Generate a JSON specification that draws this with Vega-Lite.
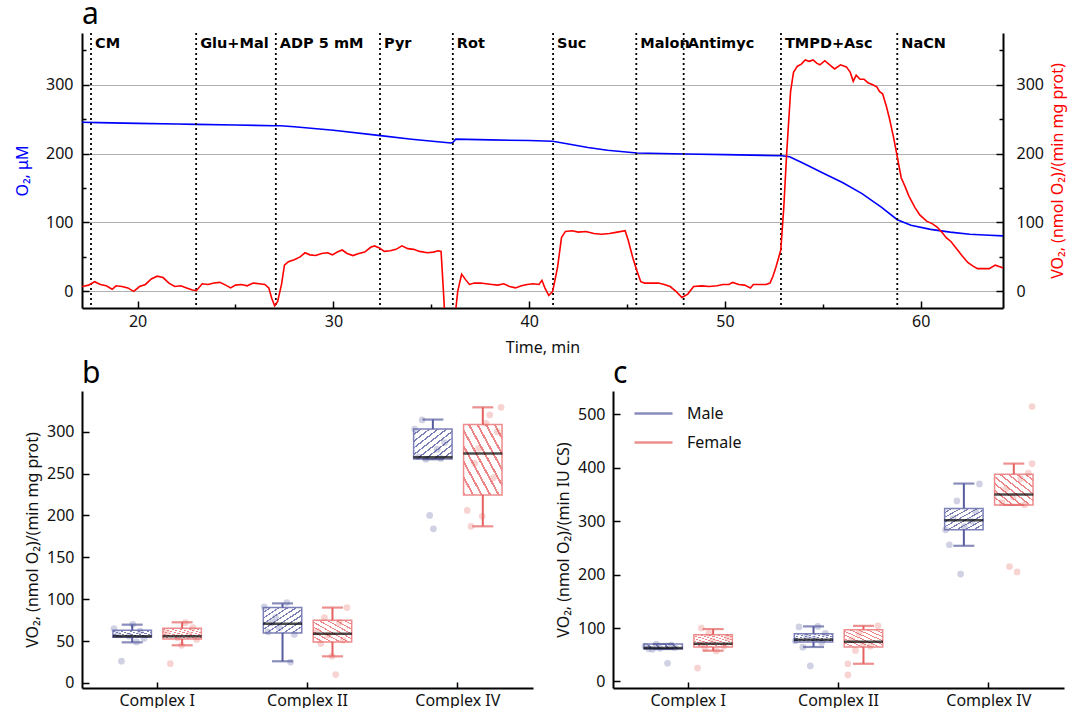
{
  "$schema": "https://vega.github.io/schema/vega-lite/v6.json",
  "background": "white",
  "padding": {"left": 14, "top": 0, "right": 4, "bottom": 0},
  "spacing": 4,
  "config": {
    "font": "Noto Sans",
    "view": {"stroke": null},
    "axis": {
      "labelFont": "Noto Sans", "titleFont": "Noto Sans",
      "labelFontSize": 16, "titleFontSize": 16, "titleFontWeight": "normal",
      "labelColor": "#111111", "titleColor": "#111111",
      "domainColor": "#000000", "domainWidth": 2,
      "tickColor": "#000000", "tickWidth": 1.5, "grid": false
    },
    "title": {"font": "Noto Sans", "fontSize": 30, "fontWeight": "normal", "anchor": "start", "frame": "group", "color": "#000000", "offset": 2}
  },
  "datasets": {
    "events": [
      {"t": 17.62, "label": "CM"}, {"t": 22.99, "label": "Glu+Mal"}, {"t": 27.06, "label": "ADP 5 mM"},
      {"t": 32.38, "label": "Pyr"}, {"t": 36.1, "label": "Rot"}, {"t": 41.22, "label": "Suc"},
      {"t": 45.47, "label": "Malon"}, {"t": 47.89, "label": "Antimyc"}, {"t": 52.86, "label": "TMPD+Asc"},
      {"t": 58.8, "label": "NaCN"}
    ],
    "o2": [
      {"t": 17.16, "o2": 245.5}, {"t": 18, "o2": 245}, {"t": 20, "o2": 244}, {"t": 22, "o2": 243}, {"t": 23, "o2": 242.5},
      {"t": 25, "o2": 241.5}, {"t": 27, "o2": 240.5}, {"t": 27.3, "o2": 240.5}, {"t": 28, "o2": 239}, {"t": 30, "o2": 234},
      {"t": 32.3, "o2": 226.5}, {"t": 34, "o2": 221}, {"t": 36.0, "o2": 215.5}, {"t": 36.1, "o2": 216}, {"t": 36.25, "o2": 221},
      {"t": 38, "o2": 220}, {"t": 40, "o2": 219}, {"t": 41.2, "o2": 218}, {"t": 42, "o2": 214}, {"t": 43, "o2": 209},
      {"t": 44, "o2": 205}, {"t": 45.5, "o2": 201}, {"t": 48, "o2": 199.5}, {"t": 50, "o2": 198.5}, {"t": 52.9, "o2": 197},
      {"t": 53.3, "o2": 195.5}, {"t": 54, "o2": 186}, {"t": 55, "o2": 172}, {"t": 56, "o2": 158}, {"t": 57, "o2": 142},
      {"t": 58, "o2": 122}, {"t": 58.8, "o2": 104}, {"t": 59.5, "o2": 96}, {"t": 60.5, "o2": 90}, {"t": 61.5, "o2": 86},
      {"t": 62.5, "o2": 83}, {"t": 63.5, "o2": 81.5}, {"t": 64.2, "o2": 80.5}
    ],
    "vo2": [
      {"t": 17.16, "vo2": 7}, {"t": 17.5, "vo2": 9}, {"t": 17.8, "vo2": 14}, {"t": 18.1, "vo2": 10}, {"t": 18.4, "vo2": 8},
      {"t": 18.7, "vo2": 3}, {"t": 18.9, "vo2": 8}, {"t": 19.2, "vo2": 7}, {"t": 19.5, "vo2": 5}, {"t": 19.8, "vo2": 0},
      {"t": 20.1, "vo2": 7}, {"t": 20.4, "vo2": 10}, {"t": 20.7, "vo2": 18}, {"t": 21.0, "vo2": 22}, {"t": 21.3, "vo2": 20},
      {"t": 21.6, "vo2": 12}, {"t": 21.9, "vo2": 7}, {"t": 22.2, "vo2": 8}, {"t": 22.5, "vo2": 5}, {"t": 22.8, "vo2": 2},
      {"t": 23.0, "vo2": 1}, {"t": 23.3, "vo2": 11}, {"t": 23.6, "vo2": 10}, {"t": 23.9, "vo2": 12}, {"t": 24.2, "vo2": 13},
      {"t": 24.5, "vo2": 9}, {"t": 24.75, "vo2": 5}, {"t": 25.0, "vo2": 9}, {"t": 25.3, "vo2": 10}, {"t": 25.6, "vo2": 8},
      {"t": 25.9, "vo2": 12}, {"t": 26.2, "vo2": 11}, {"t": 26.5, "vo2": 10}, {"t": 26.7, "vo2": 5}, {"t": 26.85, "vo2": -10},
      {"t": 27.0, "vo2": -21}, {"t": 27.15, "vo2": -15}, {"t": 27.35, "vo2": 10}, {"t": 27.5, "vo2": 38}, {"t": 27.7, "vo2": 43},
      {"t": 28.0, "vo2": 46}, {"t": 28.3, "vo2": 50}, {"t": 28.55, "vo2": 56}, {"t": 28.8, "vo2": 53}, {"t": 29.1, "vo2": 52},
      {"t": 29.4, "vo2": 55}, {"t": 29.7, "vo2": 56}, {"t": 29.95, "vo2": 53}, {"t": 30.2, "vo2": 57}, {"t": 30.45, "vo2": 60},
      {"t": 30.7, "vo2": 55}, {"t": 31.0, "vo2": 52}, {"t": 31.3, "vo2": 55}, {"t": 31.6, "vo2": 57}, {"t": 31.9, "vo2": 64},
      {"t": 32.1, "vo2": 66}, {"t": 32.35, "vo2": 63}, {"t": 32.6, "vo2": 58}, {"t": 32.9, "vo2": 59}, {"t": 33.2, "vo2": 61},
      {"t": 33.5, "vo2": 66}, {"t": 33.8, "vo2": 62}, {"t": 34.1, "vo2": 61}, {"t": 34.4, "vo2": 58}, {"t": 34.8, "vo2": 56},
      {"t": 35.1, "vo2": 57}, {"t": 35.35, "vo2": 59}, {"t": 35.5, "vo2": 58}, {"t": 35.6, "vo2": 10}, {"t": 35.7, "vo2": -40},
      {"t": 36.2, "vo2": -40}, {"t": 36.35, "vo2": 0}, {"t": 36.55, "vo2": 25}, {"t": 36.75, "vo2": 17}, {"t": 36.95, "vo2": 10},
      {"t": 37.2, "vo2": 12}, {"t": 37.5, "vo2": 12}, {"t": 37.8, "vo2": 11}, {"t": 38.1, "vo2": 10}, {"t": 38.4, "vo2": 9},
      {"t": 38.7, "vo2": 11}, {"t": 39.0, "vo2": 7}, {"t": 39.3, "vo2": 5}, {"t": 39.6, "vo2": 8}, {"t": 39.9, "vo2": 10},
      {"t": 40.2, "vo2": 11}, {"t": 40.5, "vo2": 10}, {"t": 40.65, "vo2": 16}, {"t": 40.8, "vo2": 5}, {"t": 41.0, "vo2": -6},
      {"t": 41.2, "vo2": 0}, {"t": 41.45, "vo2": 35}, {"t": 41.65, "vo2": 78}, {"t": 41.85, "vo2": 87}, {"t": 42.2, "vo2": 88},
      {"t": 42.5, "vo2": 86}, {"t": 42.9, "vo2": 87}, {"t": 43.3, "vo2": 84}, {"t": 43.7, "vo2": 83}, {"t": 44.1, "vo2": 84},
      {"t": 44.5, "vo2": 86}, {"t": 44.9, "vo2": 88}, {"t": 45.05, "vo2": 75}, {"t": 45.3, "vo2": 48}, {"t": 45.5, "vo2": 30},
      {"t": 45.7, "vo2": 14}, {"t": 45.9, "vo2": 12}, {"t": 46.2, "vo2": 12}, {"t": 46.6, "vo2": 12}, {"t": 46.9, "vo2": 10},
      {"t": 47.2, "vo2": 7}, {"t": 47.5, "vo2": 0}, {"t": 47.8, "vo2": -9}, {"t": 48.1, "vo2": -4}, {"t": 48.4, "vo2": 7},
      {"t": 48.8, "vo2": 8}, {"t": 49.2, "vo2": 7}, {"t": 49.6, "vo2": 8}, {"t": 49.9, "vo2": 10}, {"t": 50.2, "vo2": 10},
      {"t": 50.4, "vo2": 13}, {"t": 50.7, "vo2": 10}, {"t": 51.0, "vo2": 9}, {"t": 51.3, "vo2": 5}, {"t": 51.45, "vo2": 10},
      {"t": 51.8, "vo2": 10}, {"t": 52.1, "vo2": 10}, {"t": 52.3, "vo2": 12}, {"t": 52.45, "vo2": 22}, {"t": 52.6, "vo2": 35},
      {"t": 52.75, "vo2": 50}, {"t": 52.85, "vo2": 60}, {"t": 53.0, "vo2": 120}, {"t": 53.15, "vo2": 200}, {"t": 53.35, "vo2": 290},
      {"t": 53.5, "vo2": 318}, {"t": 53.7, "vo2": 327}, {"t": 53.9, "vo2": 330}, {"t": 54.1, "vo2": 336}, {"t": 54.3, "vo2": 334},
      {"t": 54.5, "vo2": 336}, {"t": 54.7, "vo2": 331}, {"t": 54.85, "vo2": 329}, {"t": 55.1, "vo2": 335}, {"t": 55.35, "vo2": 329},
      {"t": 55.6, "vo2": 323}, {"t": 55.9, "vo2": 329}, {"t": 56.2, "vo2": 326}, {"t": 56.4, "vo2": 318}, {"t": 56.55, "vo2": 305},
      {"t": 56.7, "vo2": 314}, {"t": 56.9, "vo2": 308}, {"t": 57.1, "vo2": 308}, {"t": 57.3, "vo2": 303}, {"t": 57.55, "vo2": 300},
      {"t": 57.75, "vo2": 297}, {"t": 57.9, "vo2": 290}, {"t": 58.05, "vo2": 287}, {"t": 58.25, "vo2": 268}, {"t": 58.4, "vo2": 251},
      {"t": 58.6, "vo2": 225}, {"t": 58.75, "vo2": 203}, {"t": 59.0, "vo2": 165}, {"t": 59.2, "vo2": 152}, {"t": 59.4, "vo2": 138},
      {"t": 59.7, "vo2": 122}, {"t": 59.95, "vo2": 111}, {"t": 60.3, "vo2": 102}, {"t": 60.6, "vo2": 98}, {"t": 60.85, "vo2": 93},
      {"t": 61.1, "vo2": 85}, {"t": 61.3, "vo2": 78}, {"t": 61.55, "vo2": 72}, {"t": 61.8, "vo2": 63}, {"t": 62.1, "vo2": 52},
      {"t": 62.4, "vo2": 42}, {"t": 62.65, "vo2": 37}, {"t": 62.9, "vo2": 33}, {"t": 63.2, "vo2": 33}, {"t": 63.5, "vo2": 33},
      {"t": 63.8, "vo2": 38}, {"t": 64.0, "vo2": 36}, {"t": 64.2, "vo2": 34}
    ],
    "boxB": [
      {"complex": "Complex I", "sex": "Male", "lower": 48.5, "q1": 54.5, "median": 55.7, "q3": 62.9, "upper": 69.6},
      {"complex": "Complex I", "sex": "Female", "lower": 45, "q1": 52.5, "median": 55.7, "q3": 65.3, "upper": 72.4},
      {"complex": "Complex II", "sex": "Male", "lower": 25.9, "q1": 59.7, "median": 70.8, "q3": 90, "upper": 95},
      {"complex": "Complex II", "sex": "Female", "lower": 31.8, "q1": 49, "median": 58.9, "q3": 74.8, "upper": 90},
      {"complex": "Complex IV", "sex": "Male", "lower": 267, "q1": 267.4, "median": 269.4, "q3": 303.2, "upper": 314.4},
      {"complex": "Complex IV", "sex": "Female", "lower": 187, "q1": 224.4, "median": 273.8, "q3": 308.4, "upper": 329}
    ],
    "boxC": [
      {"complex": "Complex I", "sex": "Male", "lower": 60.6, "q1": 60.6, "median": 62.5, "q3": 70, "upper": 70},
      {"complex": "Complex I", "sex": "Female", "lower": 57.5, "q1": 64.4, "median": 70.6, "q3": 87.5, "upper": 98},
      {"complex": "Complex II", "sex": "Male", "lower": 64.4, "q1": 73.8, "median": 78, "q3": 89.4, "upper": 103},
      {"complex": "Complex II", "sex": "Female", "lower": 33, "q1": 64.4, "median": 74.4, "q3": 96.9, "upper": 104},
      {"complex": "Complex IV", "sex": "Male", "lower": 254, "q1": 284, "median": 302, "q3": 324, "upper": 370.6},
      {"complex": "Complex IV", "sex": "Female", "lower": 330.6, "q1": 330.6, "median": 350, "q3": 388, "upper": 408}
    ],
    "ptsB": [
      {"complex": "Complex I", "sex": "Male", "slot": "M3", "v": 26}, {"complex": "Complex I", "sex": "Male", "slot": "M7", "v": 49},
      {"complex": "Complex I", "sex": "Male", "slot": "M9", "v": 53}, {"complex": "Complex I", "sex": "Male", "slot": "M5", "v": 56},
      {"complex": "Complex I", "sex": "Male", "slot": "M2", "v": 58}, {"complex": "Complex I", "sex": "Male", "slot": "M8", "v": 62},
      {"complex": "Complex I", "sex": "Male", "slot": "M1", "v": 65}, {"complex": "Complex I", "sex": "Male", "slot": "M6", "v": 70},
      {"complex": "Complex I", "sex": "Female", "slot": "F2", "v": 23}, {"complex": "Complex I", "sex": "Female", "slot": "F5", "v": 45},
      {"complex": "Complex I", "sex": "Female", "slot": "F9", "v": 52}, {"complex": "Complex I", "sex": "Female", "slot": "F4", "v": 54},
      {"complex": "Complex I", "sex": "Female", "slot": "F7", "v": 57}, {"complex": "Complex I", "sex": "Female", "slot": "F1", "v": 60},
      {"complex": "Complex I", "sex": "Female", "slot": "F8", "v": 66}, {"complex": "Complex I", "sex": "Female", "slot": "F6", "v": 72},
      {"complex": "Complex II", "sex": "Male", "slot": "M8", "v": 25}, {"complex": "Complex II", "sex": "Male", "slot": "M9", "v": 58},
      {"complex": "Complex II", "sex": "Male", "slot": "M2", "v": 61}, {"complex": "Complex II", "sex": "Male", "slot": "M5", "v": 66},
      {"complex": "Complex II", "sex": "Male", "slot": "M3", "v": 72}, {"complex": "Complex II", "sex": "Male", "slot": "M4", "v": 78},
      {"complex": "Complex II", "sex": "Male", "slot": "M1", "v": 91}, {"complex": "Complex II", "sex": "Male", "slot": "M7", "v": 96},
      {"complex": "Complex II", "sex": "Female", "slot": "F6", "v": 10}, {"complex": "Complex II", "sex": "Female", "slot": "F5", "v": 32},
      {"complex": "Complex II", "sex": "Female", "slot": "F2", "v": 47}, {"complex": "Complex II", "sex": "Female", "slot": "F8", "v": 51},
      {"complex": "Complex II", "sex": "Female", "slot": "F4", "v": 57}, {"complex": "Complex II", "sex": "Female", "slot": "F1", "v": 62},
      {"complex": "Complex II", "sex": "Female", "slot": "F7", "v": 72}, {"complex": "Complex II", "sex": "Female", "slot": "F3", "v": 78},
      {"complex": "Complex II", "sex": "Female", "slot": "F9", "v": 90},
      {"complex": "Complex IV", "sex": "Male", "slot": "M6", "v": 184}, {"complex": "Complex IV", "sex": "Male", "slot": "M5", "v": 200},
      {"complex": "Complex IV", "sex": "Male", "slot": "M4", "v": 267}, {"complex": "Complex IV", "sex": "Male", "slot": "M8", "v": 268},
      {"complex": "Complex IV", "sex": "Male", "slot": "M2", "v": 270}, {"complex": "Complex IV", "sex": "Male", "slot": "M7", "v": 279},
      {"complex": "Complex IV", "sex": "Male", "slot": "M9", "v": 287}, {"complex": "Complex IV", "sex": "Male", "slot": "M1", "v": 303},
      {"complex": "Complex IV", "sex": "Male", "slot": "M3", "v": 314},
      {"complex": "Complex IV", "sex": "Female", "slot": "F2", "v": 187}, {"complex": "Complex IV", "sex": "Female", "slot": "F5", "v": 199},
      {"complex": "Complex IV", "sex": "Female", "slot": "F1", "v": 206}, {"complex": "Complex IV", "sex": "Female", "slot": "F8", "v": 245},
      {"complex": "Complex IV", "sex": "Female", "slot": "F3", "v": 262}, {"complex": "Complex IV", "sex": "Female", "slot": "F4", "v": 280},
      {"complex": "Complex IV", "sex": "Female", "slot": "F9", "v": 300}, {"complex": "Complex IV", "sex": "Female", "slot": "F6", "v": 310},
      {"complex": "Complex IV", "sex": "Female", "slot": "F7", "v": 320}, {"complex": "Complex IV", "sex": "Female", "slot": "F10", "v": 329}
    ],
    "ptsC": [
      {"complex": "Complex I", "sex": "Male", "slot": "M7", "v": 34}, {"complex": "Complex I", "sex": "Male", "slot": "M3", "v": 60},
      {"complex": "Complex I", "sex": "Male", "slot": "M2", "v": 61}, {"complex": "Complex I", "sex": "Male", "slot": "M5", "v": 62},
      {"complex": "Complex I", "sex": "Male", "slot": "M9", "v": 63}, {"complex": "Complex I", "sex": "Male", "slot": "M1", "v": 66},
      {"complex": "Complex I", "sex": "Male", "slot": "M8", "v": 68}, {"complex": "Complex I", "sex": "Male", "slot": "M4", "v": 70},
      {"complex": "Complex I", "sex": "Female", "slot": "F1", "v": 25}, {"complex": "Complex I", "sex": "Female", "slot": "F6", "v": 57},
      {"complex": "Complex I", "sex": "Female", "slot": "F3", "v": 62}, {"complex": "Complex I", "sex": "Female", "slot": "F8", "v": 66},
      {"complex": "Complex I", "sex": "Female", "slot": "F2", "v": 70}, {"complex": "Complex I", "sex": "Female", "slot": "F5", "v": 75},
      {"complex": "Complex I", "sex": "Female", "slot": "F9", "v": 82}, {"complex": "Complex I", "sex": "Female", "slot": "F4", "v": 90},
      {"complex": "Complex I", "sex": "Female", "slot": "F2", "v": 100},
      {"complex": "Complex II", "sex": "Male", "slot": "M5", "v": 29}, {"complex": "Complex II", "sex": "Male", "slot": "M3", "v": 64},
      {"complex": "Complex II", "sex": "Male", "slot": "M8", "v": 73}, {"complex": "Complex II", "sex": "Male", "slot": "M1", "v": 76},
      {"complex": "Complex II", "sex": "Male", "slot": "M6", "v": 79}, {"complex": "Complex II", "sex": "Male", "slot": "M4", "v": 84},
      {"complex": "Complex II", "sex": "Male", "slot": "M9", "v": 90}, {"complex": "Complex II", "sex": "Male", "slot": "M2", "v": 102},
      {"complex": "Complex II", "sex": "Male", "slot": "M7", "v": 103},
      {"complex": "Complex II", "sex": "Female", "slot": "F1", "v": 12}, {"complex": "Complex II", "sex": "Female", "slot": "F1", "v": 33},
      {"complex": "Complex II", "sex": "Female", "slot": "F3", "v": 58}, {"complex": "Complex II", "sex": "Female", "slot": "F7", "v": 66},
      {"complex": "Complex II", "sex": "Female", "slot": "F5", "v": 70}, {"complex": "Complex II", "sex": "Female", "slot": "F2", "v": 78},
      {"complex": "Complex II", "sex": "Female", "slot": "F4", "v": 90}, {"complex": "Complex II", "sex": "Female", "slot": "F9", "v": 104},
      {"complex": "Complex IV", "sex": "Male", "slot": "M5", "v": 201}, {"complex": "Complex IV", "sex": "Male", "slot": "M2", "v": 256},
      {"complex": "Complex IV", "sex": "Male", "slot": "M1", "v": 284}, {"complex": "Complex IV", "sex": "Male", "slot": "M6", "v": 290},
      {"complex": "Complex IV", "sex": "Male", "slot": "M8", "v": 300}, {"complex": "Complex IV", "sex": "Male", "slot": "M3", "v": 305},
      {"complex": "Complex IV", "sex": "Male", "slot": "M9", "v": 318}, {"complex": "Complex IV", "sex": "Male", "slot": "M4", "v": 338},
      {"complex": "Complex IV", "sex": "Male", "slot": "M10", "v": 370},
      {"complex": "Complex IV", "sex": "Female", "slot": "F6", "v": 205}, {"complex": "Complex IV", "sex": "Female", "slot": "F4", "v": 215},
      {"complex": "Complex IV", "sex": "Female", "slot": "F8", "v": 331}, {"complex": "Complex IV", "sex": "Female", "slot": "F2", "v": 335},
      {"complex": "Complex IV", "sex": "Female", "slot": "F5", "v": 345}, {"complex": "Complex IV", "sex": "Female", "slot": "F3", "v": 360},
      {"complex": "Complex IV", "sex": "Female", "slot": "F7", "v": 380}, {"complex": "Complex IV", "sex": "Female", "slot": "F9", "v": 390},
      {"complex": "Complex IV", "sex": "Female", "slot": "F10", "v": 408}, {"complex": "Complex IV", "sex": "Female", "slot": "F10", "v": 515}
    ]
  },
  "resolve": {"scale": {"x": "independent", "y": "independent", "color": "independent"}},
  "vconcat": [
    {
      "width": 921, "height": 275,
      "title": {"text": "a"},
      "layer": [
        {
          "data": {"name": "o2"},
          "mark": {"type": "line", "color": "#0000ff", "strokeWidth": 1.6},
          "encoding": {
            "x": {"field": "t", "type": "quantitative", "title": "Time, min", "scale": {"domain": [17.16, 64.2], "nice": false, "zero": false},
              "axis": {"values": [20, 25, 30, 35, 40, 45, 50, 55, 60],
                "labelExpr": "datum.value % 10 === 0 ? datum.label : ''",
                "tickSize": {"condition": {"test": "datum.value % 10 === 0", "value": -7}, "value": -4},
                "labelPadding": 12, "titlePadding": 10}},
            "y": {"field": "o2", "type": "quantitative", "scale": {"domain": [-24.2, 375.2], "nice": false, "zero": false},
              "axis": {"orient": "left", "title": "O₂, μM", "titleColor": "#0000ff",
                "values": [0, 50, 100, 150, 200, 250, 300, 350],
                "labelExpr": "datum.value % 100 === 0 ? datum.label : ''",
                "tickSize": {"condition": {"test": "datum.value % 100 === 0", "value": -7}, "value": -4},
                "labelPadding": 16, "titlePadding": 15,
                "grid": true, "gridColor": "#b0b0b0", "gridWidth": 1,
                "gridOpacity": {"condition": {"test": "datum.value % 100 === 0", "value": 1}, "value": 0}}}
          }
        },
        {
          "data": {"name": "events"},
          "mark": {"type": "rule", "strokeDash": [2, 3], "strokeWidth": 1.8, "color": "#000000"},
          "encoding": {
            "x": {"field": "t", "type": "quantitative", "title": "Time, min"}
          }
        },
        {
          "data": {"name": "events"},
          "mark": {"type": "text", "align": "left", "baseline": "alphabetic", "dx": 4, "fontSize": 14.5, "fontWeight": "bold", "color": "#000000", "font": "DejaVu Sans"},
          "encoding": {
            "x": {"field": "t", "type": "quantitative", "title": "Time, min"},
            "y": {"datum": 354, "type": "quantitative", "scale": {"domain": [-24.2, 375.2], "nice": false, "zero": false}, "axis": null},
            "text": {"field": "label"}
          }
        },
        {
          "data": {"name": "vo2"},
          "mark": {"type": "line", "color": "#ff0000", "strokeWidth": 1.6, "clip": true},
          "encoding": {
            "x": {"field": "t", "type": "quantitative", "title": "Time, min"},
            "y": {"field": "vo2", "type": "quantitative", "scale": {"domain": [-24.2, 375.2], "nice": false, "zero": false},
              "axis": {"orient": "right", "title": "VO₂, (nmol O₂)/(min mg prot)", "titleColor": "#ff0000",
                "titleAngle": 270, "titleBaseline": "top",
                "values": [0, 50, 100, 150, 200, 250, 300, 350],
                "labelExpr": "datum.value % 100 === 0 ? datum.label : ''",
                "tickSize": {"condition": {"test": "datum.value % 100 === 0", "value": -7}, "value": -4},
                "labelPadding": 20, "titlePadding": 6}}
          }
        }
      ],
      "resolve": {"scale": {"y": "independent"}}
    },
    {
      "hconcat": [
        {
          "width": 451, "height": 297,
          "title": {"text": "b"},
          "data": {"name": "boxB"},
          "layer": [
            {
              "transform": [{"filter": "datum.sex === 'Male'"}],
              "mark": {"type": "bar", "stroke": "#7d81b8", "strokeWidth": 1.5,
                "fill": {"gradient": "linear", "x1": 0, "y1": 0, "x2": 1, "y2": 1, "stops": [
                  {"offset": 0, "color": "#ffffff"}, {"offset": 0.0831, "color": "#ffffff"}, {"offset": 0.0831, "color": "#7a7eb6"}, {"offset": 0.1111, "color": "#7a7eb6"},
                  {"offset": 0.1111, "color": "#ffffff"}, {"offset": 0.1942, "color": "#ffffff"}, {"offset": 0.1942, "color": "#7a7eb6"}, {"offset": 0.2222, "color": "#7a7eb6"},
                  {"offset": 0.2222, "color": "#ffffff"}, {"offset": 0.3053, "color": "#ffffff"}, {"offset": 0.3053, "color": "#7a7eb6"}, {"offset": 0.3333, "color": "#7a7eb6"},
                  {"offset": 0.3333, "color": "#ffffff"}, {"offset": 0.4164, "color": "#ffffff"}, {"offset": 0.4164, "color": "#7a7eb6"}, {"offset": 0.4444, "color": "#7a7eb6"},
                  {"offset": 0.4444, "color": "#ffffff"}, {"offset": 0.5275, "color": "#ffffff"}, {"offset": 0.5275, "color": "#7a7eb6"}, {"offset": 0.5556, "color": "#7a7eb6"},
                  {"offset": 0.5556, "color": "#ffffff"}, {"offset": 0.6386, "color": "#ffffff"}, {"offset": 0.6386, "color": "#7a7eb6"}, {"offset": 0.6667, "color": "#7a7eb6"},
                  {"offset": 0.6667, "color": "#ffffff"}, {"offset": 0.7497, "color": "#ffffff"}, {"offset": 0.7497, "color": "#7a7eb6"}, {"offset": 0.7778, "color": "#7a7eb6"},
                  {"offset": 0.7778, "color": "#ffffff"}, {"offset": 0.8608, "color": "#ffffff"}, {"offset": 0.8608, "color": "#7a7eb6"}, {"offset": 0.8889, "color": "#7a7eb6"},
                  {"offset": 0.8889, "color": "#ffffff"}, {"offset": 0.9719, "color": "#ffffff"}, {"offset": 0.9719, "color": "#7a7eb6"}, {"offset": 1, "color": "#7a7eb6"}]}},
              "encoding": {
                "x": {"field": "complex", "type": "nominal", "title": null, "sort": ["Complex I", "Complex II", "Complex IV"], "scale": {"paddingInner": 0, "paddingOuter": 0},
                  "axis": {"labelAngle": 0, "tickSize": -6, "labelPadding": 10}},
                "xOffset": {"field": "sex", "type": "nominal", "scale": {"domain": ["Male", "Female"], "paddingInner": 0.23, "paddingOuter": 0.62}},
                "y": {"field": "q1", "type": "quantitative", "title": "VO₂, (nmol O₂)/(min mg prot)", "scale": {"domain": [-6, 348.5], "nice": false, "zero": false},
                  "axis": {"values": [0, 25, 50, 75, 100, 125, 150, 175, 200, 225, 250, 275, 300, 325],
                    "labelExpr": "datum.value % 50 === 0 ? datum.label : ''",
                    "tickSize": {"condition": {"test": "datum.value % 50 === 0", "value": -7}, "value": -4},
                    "labelPadding": 15, "titlePadding": 6}},
                "y2": {"field": "q3"}
              }
            },
            {
              "transform": [{"filter": "datum.sex === 'Female'"}],
              "mark": {"type": "bar", "stroke": "#ee8b8c", "strokeWidth": 1.5,
                "fill": {"gradient": "linear", "x1": 1, "y1": 0, "x2": 0, "y2": 1, "stops": [
                  {"offset": 0, "color": "#ffffff"}, {"offset": 0.0831, "color": "#ffffff"}, {"offset": 0.0831, "color": "#ee8587"}, {"offset": 0.1111, "color": "#ee8587"},
                  {"offset": 0.1111, "color": "#ffffff"}, {"offset": 0.1942, "color": "#ffffff"}, {"offset": 0.1942, "color": "#ee8587"}, {"offset": 0.2222, "color": "#ee8587"},
                  {"offset": 0.2222, "color": "#ffffff"}, {"offset": 0.3053, "color": "#ffffff"}, {"offset": 0.3053, "color": "#ee8587"}, {"offset": 0.3333, "color": "#ee8587"},
                  {"offset": 0.3333, "color": "#ffffff"}, {"offset": 0.4164, "color": "#ffffff"}, {"offset": 0.4164, "color": "#ee8587"}, {"offset": 0.4444, "color": "#ee8587"},
                  {"offset": 0.4444, "color": "#ffffff"}, {"offset": 0.5275, "color": "#ffffff"}, {"offset": 0.5275, "color": "#ee8587"}, {"offset": 0.5556, "color": "#ee8587"},
                  {"offset": 0.5556, "color": "#ffffff"}, {"offset": 0.6386, "color": "#ffffff"}, {"offset": 0.6386, "color": "#ee8587"}, {"offset": 0.6667, "color": "#ee8587"},
                  {"offset": 0.6667, "color": "#ffffff"}, {"offset": 0.7497, "color": "#ffffff"}, {"offset": 0.7497, "color": "#ee8587"}, {"offset": 0.7778, "color": "#ee8587"},
                  {"offset": 0.7778, "color": "#ffffff"}, {"offset": 0.8608, "color": "#ffffff"}, {"offset": 0.8608, "color": "#ee8587"}, {"offset": 0.8889, "color": "#ee8587"},
                  {"offset": 0.8889, "color": "#ffffff"}, {"offset": 0.9719, "color": "#ffffff"}, {"offset": 0.9719, "color": "#ee8587"}, {"offset": 1, "color": "#ee8587"}]}},
              "encoding": {
                "x": {"field": "complex", "type": "nominal", "title": null, "sort": ["Complex I", "Complex II", "Complex IV"]},
                "xOffset": {"field": "sex", "type": "nominal", "scale": {"domain": ["Male", "Female"], "paddingInner": 0.23, "paddingOuter": 0.62}},
                "y": {"field": "q1", "type": "quantitative", "title": "VO₂, (nmol O₂)/(min mg prot)"},
                "y2": {"field": "q3"}
              }
            },
            {
              "data": {"name": "ptsB"},
              "mark": {"type": "circle", "size": 45, "opacity": 0.28},
              "encoding": {
                "x": {"field": "complex", "type": "nominal", "title": null, "sort": ["Complex I", "Complex II", "Complex IV"]},
                "xOffset": {"field": "slot", "type": "nominal", "scale": {"domain": ["L1", "L2", "L3", "L4", "L5", "L6", "L7", "L8", "M1", "M2", "M3", "M4", "M5", "M6", "M7", "M8", "M9", "M10", "g1", "g2", "g3", "g4", "F1", "F2", "F3", "F4", "F5", "F6", "F7", "F8", "F9", "F10", "R1", "R2", "R3", "R4", "R5", "R6", "R7", "R8"], "paddingInner": 0, "paddingOuter": 0.5}},
                "y": {"field": "v", "type": "quantitative", "title": "VO₂, (nmol O₂)/(min mg prot)"},
                "fill": {"field": "sex", "type": "nominal", "scale": {"domain": ["Male", "Female"], "range": ["#575c9e", "#e4615f"]}, "legend": null}
              }
            },
            {
              "mark": {"type": "rule", "strokeWidth": 2},
              "encoding": {
                "x": {"field": "complex", "type": "nominal", "title": null, "sort": ["Complex I", "Complex II", "Complex IV"]},
                "xOffset": {"field": "sex", "type": "nominal", "scale": {"domain": ["Male", "Female"], "paddingInner": 0.23, "paddingOuter": 0.62}},
                "y": {"field": "lower", "type": "quantitative", "title": "VO₂, (nmol O₂)/(min mg prot)"}, "y2": {"field": "q1"},
                "color": {"field": "sex", "type": "nominal", "scale": {"domain": ["Male", "Female"], "range": ["#575c9e", "#e4615f"]}, "legend": null}
              }
            },
            {
              "mark": {"type": "rule", "strokeWidth": 2},
              "encoding": {
                "x": {"field": "complex", "type": "nominal", "title": null, "sort": ["Complex I", "Complex II", "Complex IV"]},
                "xOffset": {"field": "sex", "type": "nominal", "scale": {"domain": ["Male", "Female"], "paddingInner": 0.23, "paddingOuter": 0.62}},
                "y": {"field": "q3", "type": "quantitative", "title": "VO₂, (nmol O₂)/(min mg prot)"}, "y2": {"field": "upper"},
                "color": {"field": "sex", "type": "nominal", "legend": null}
              }
            },
            {
              "mark": {"type": "tick", "size": 21, "thickness": 2.2},
              "encoding": {
                "x": {"field": "complex", "type": "nominal", "title": null, "sort": ["Complex I", "Complex II", "Complex IV"]},
                "xOffset": {"field": "sex", "type": "nominal", "scale": {"domain": ["Male", "Female"], "paddingInner": 0.23, "paddingOuter": 0.62}},
                "y": {"field": "lower", "type": "quantitative", "title": "VO₂, (nmol O₂)/(min mg prot)"},
                "fill": {"field": "sex", "type": "nominal", "legend": null}
              }
            },
            {
              "mark": {"type": "tick", "size": 21, "thickness": 2.2},
              "encoding": {
                "x": {"field": "complex", "type": "nominal", "title": null, "sort": ["Complex I", "Complex II", "Complex IV"]},
                "xOffset": {"field": "sex", "type": "nominal", "scale": {"domain": ["Male", "Female"], "paddingInner": 0.23, "paddingOuter": 0.62}},
                "y": {"field": "upper", "type": "quantitative", "title": "VO₂, (nmol O₂)/(min mg prot)"},
                "fill": {"field": "sex", "type": "nominal", "legend": null}
              }
            },
            {
              "mark": {"type": "tick", "size": 39, "thickness": 2.5, "color": "#000000"},
              "encoding": {
                "x": {"field": "complex", "type": "nominal", "title": null, "sort": ["Complex I", "Complex II", "Complex IV"]},
                "xOffset": {"field": "sex", "type": "nominal", "scale": {"domain": ["Male", "Female"], "paddingInner": 0.23, "paddingOuter": 0.62}},
                "y": {"field": "median", "type": "quantitative", "title": "VO₂, (nmol O₂)/(min mg prot)"}
              }
            }
          ],
          "resolve": {"scale": {"xOffset": "independent"}}
        },
        {
          "width": 451, "height": 297,
          "title": {"text": "c"},
          "data": {"name": "boxC"},
          "layer": [
            {
              "transform": [{"filter": "datum.sex === 'Male'"}],
              "mark": {"type": "bar", "stroke": "#7d81b8", "strokeWidth": 1.5,
                "fill": {"gradient": "linear", "x1": 0, "y1": 0, "x2": 1, "y2": 1, "stops": [
                  {"offset": 0, "color": "#ffffff"}, {"offset": 0.0831, "color": "#ffffff"}, {"offset": 0.0831, "color": "#7a7eb6"}, {"offset": 0.1111, "color": "#7a7eb6"},
                  {"offset": 0.1111, "color": "#ffffff"}, {"offset": 0.1942, "color": "#ffffff"}, {"offset": 0.1942, "color": "#7a7eb6"}, {"offset": 0.2222, "color": "#7a7eb6"},
                  {"offset": 0.2222, "color": "#ffffff"}, {"offset": 0.3053, "color": "#ffffff"}, {"offset": 0.3053, "color": "#7a7eb6"}, {"offset": 0.3333, "color": "#7a7eb6"},
                  {"offset": 0.3333, "color": "#ffffff"}, {"offset": 0.4164, "color": "#ffffff"}, {"offset": 0.4164, "color": "#7a7eb6"}, {"offset": 0.4444, "color": "#7a7eb6"},
                  {"offset": 0.4444, "color": "#ffffff"}, {"offset": 0.5275, "color": "#ffffff"}, {"offset": 0.5275, "color": "#7a7eb6"}, {"offset": 0.5556, "color": "#7a7eb6"},
                  {"offset": 0.5556, "color": "#ffffff"}, {"offset": 0.6386, "color": "#ffffff"}, {"offset": 0.6386, "color": "#7a7eb6"}, {"offset": 0.6667, "color": "#7a7eb6"},
                  {"offset": 0.6667, "color": "#ffffff"}, {"offset": 0.7497, "color": "#ffffff"}, {"offset": 0.7497, "color": "#7a7eb6"}, {"offset": 0.7778, "color": "#7a7eb6"},
                  {"offset": 0.7778, "color": "#ffffff"}, {"offset": 0.8608, "color": "#ffffff"}, {"offset": 0.8608, "color": "#7a7eb6"}, {"offset": 0.8889, "color": "#7a7eb6"},
                  {"offset": 0.8889, "color": "#ffffff"}, {"offset": 0.9719, "color": "#ffffff"}, {"offset": 0.9719, "color": "#7a7eb6"}, {"offset": 1, "color": "#7a7eb6"}]}},
              "encoding": {
                "x": {"field": "complex", "type": "nominal", "title": null, "sort": ["Complex I", "Complex II", "Complex IV"], "scale": {"paddingInner": 0, "paddingOuter": 0},
                  "axis": {"labelAngle": 0, "tickSize": -6, "labelPadding": 10}},
                "xOffset": {"field": "sex", "type": "nominal", "scale": {"domain": ["Male", "Female"], "paddingInner": 0.23, "paddingOuter": 0.62}},
                "y": {"field": "q1", "type": "quantitative", "title": "VO₂, (nmol O₂)/(min IU CS)", "scale": {"domain": [-12.4, 544], "nice": false, "zero": false},
                  "axis": {"values": [0, 50, 100, 150, 200, 250, 300, 350, 400, 450, 500],
                    "labelExpr": "datum.value % 100 === 0 ? datum.label : ''",
                    "tickSize": {"condition": {"test": "datum.value % 100 === 0", "value": -7}, "value": -4},
                    "labelPadding": 15, "titlePadding": 6}},
                "y2": {"field": "q3"}
              }
            },
            {
              "transform": [{"filter": "datum.sex === 'Female'"}],
              "mark": {"type": "bar", "stroke": "#ee8b8c", "strokeWidth": 1.5,
                "fill": {"gradient": "linear", "x1": 1, "y1": 0, "x2": 0, "y2": 1, "stops": [
                  {"offset": 0, "color": "#ffffff"}, {"offset": 0.0831, "color": "#ffffff"}, {"offset": 0.0831, "color": "#ee8587"}, {"offset": 0.1111, "color": "#ee8587"},
                  {"offset": 0.1111, "color": "#ffffff"}, {"offset": 0.1942, "color": "#ffffff"}, {"offset": 0.1942, "color": "#ee8587"}, {"offset": 0.2222, "color": "#ee8587"},
                  {"offset": 0.2222, "color": "#ffffff"}, {"offset": 0.3053, "color": "#ffffff"}, {"offset": 0.3053, "color": "#ee8587"}, {"offset": 0.3333, "color": "#ee8587"},
                  {"offset": 0.3333, "color": "#ffffff"}, {"offset": 0.4164, "color": "#ffffff"}, {"offset": 0.4164, "color": "#ee8587"}, {"offset": 0.4444, "color": "#ee8587"},
                  {"offset": 0.4444, "color": "#ffffff"}, {"offset": 0.5275, "color": "#ffffff"}, {"offset": 0.5275, "color": "#ee8587"}, {"offset": 0.5556, "color": "#ee8587"},
                  {"offset": 0.5556, "color": "#ffffff"}, {"offset": 0.6386, "color": "#ffffff"}, {"offset": 0.6386, "color": "#ee8587"}, {"offset": 0.6667, "color": "#ee8587"},
                  {"offset": 0.6667, "color": "#ffffff"}, {"offset": 0.7497, "color": "#ffffff"}, {"offset": 0.7497, "color": "#ee8587"}, {"offset": 0.7778, "color": "#ee8587"},
                  {"offset": 0.7778, "color": "#ffffff"}, {"offset": 0.8608, "color": "#ffffff"}, {"offset": 0.8608, "color": "#ee8587"}, {"offset": 0.8889, "color": "#ee8587"},
                  {"offset": 0.8889, "color": "#ffffff"}, {"offset": 0.9719, "color": "#ffffff"}, {"offset": 0.9719, "color": "#ee8587"}, {"offset": 1, "color": "#ee8587"}]}},
              "encoding": {
                "x": {"field": "complex", "type": "nominal", "title": null, "sort": ["Complex I", "Complex II", "Complex IV"]},
                "xOffset": {"field": "sex", "type": "nominal", "scale": {"domain": ["Male", "Female"], "paddingInner": 0.23, "paddingOuter": 0.62}},
                "y": {"field": "q1", "type": "quantitative", "title": "VO₂, (nmol O₂)/(min IU CS)"},
                "y2": {"field": "q3"}
              }
            },
            {
              "mark": {"type": "rule", "strokeWidth": 2},
              "encoding": {
                "x": {"field": "complex", "type": "nominal", "title": null, "sort": ["Complex I", "Complex II", "Complex IV"]},
                "xOffset": {"field": "sex", "type": "nominal", "scale": {"domain": ["Male", "Female"], "paddingInner": 0.23, "paddingOuter": 0.62}},
                "y": {"field": "lower", "type": "quantitative", "title": "VO₂, (nmol O₂)/(min IU CS)"}, "y2": {"field": "q1"},
                "color": {"field": "sex", "type": "nominal", "title": null, "scale": {"domain": ["Male", "Female"], "range": ["#575c9e", "#e4615f"]},
                  "legend": {"orient": "top-left", "title": null, "symbolType": "stroke", "symbolSize": 1444, "symbolStrokeWidth": 2.5, "symbolOffset": 18,
                    "labelFontSize": 16, "labelFont": "Noto Sans", "labelColor": "#111111", "labelOffset": 13, "offset": 2, "rowPadding": -7, "padding": 0}}
              }
            },
            {
              "mark": {"type": "rule", "strokeWidth": 2},
              "encoding": {
                "x": {"field": "complex", "type": "nominal", "title": null, "sort": ["Complex I", "Complex II", "Complex IV"]},
                "xOffset": {"field": "sex", "type": "nominal", "scale": {"domain": ["Male", "Female"], "paddingInner": 0.23, "paddingOuter": 0.62}},
                "y": {"field": "q3", "type": "quantitative", "title": "VO₂, (nmol O₂)/(min IU CS)"}, "y2": {"field": "upper"},
                "color": {"field": "sex", "type": "nominal", "title": null}
              }
            },
            {
              "mark": {"type": "tick", "size": 21, "thickness": 2.2},
              "encoding": {
                "x": {"field": "complex", "type": "nominal", "title": null, "sort": ["Complex I", "Complex II", "Complex IV"]},
                "xOffset": {"field": "sex", "type": "nominal", "scale": {"domain": ["Male", "Female"], "paddingInner": 0.23, "paddingOuter": 0.62}},
                "y": {"field": "lower", "type": "quantitative", "title": "VO₂, (nmol O₂)/(min IU CS)"},
                "color": {"field": "sex", "type": "nominal", "title": null}
              }
            },
            {
              "mark": {"type": "tick", "size": 21, "thickness": 2.2},
              "encoding": {
                "x": {"field": "complex", "type": "nominal", "title": null, "sort": ["Complex I", "Complex II", "Complex IV"]},
                "xOffset": {"field": "sex", "type": "nominal", "scale": {"domain": ["Male", "Female"], "paddingInner": 0.23, "paddingOuter": 0.62}},
                "y": {"field": "upper", "type": "quantitative", "title": "VO₂, (nmol O₂)/(min IU CS)"},
                "color": {"field": "sex", "type": "nominal", "title": null}
              }
            },
            {
              "data": {"name": "ptsC"},
              "mark": {"type": "circle", "size": 45, "opacity": 0.28},
              "encoding": {
                "x": {"field": "complex", "type": "nominal", "title": null, "sort": ["Complex I", "Complex II", "Complex IV"]},
                "xOffset": {"field": "slot", "type": "nominal", "scale": {"domain": ["L1", "L2", "L3", "L4", "L5", "L6", "L7", "L8", "M1", "M2", "M3", "M4", "M5", "M6", "M7", "M8", "M9", "M10", "g1", "g2", "g3", "g4", "F1", "F2", "F3", "F4", "F5", "F6", "F7", "F8", "F9", "F10", "R1", "R2", "R3", "R4", "R5", "R6", "R7", "R8"], "paddingInner": 0, "paddingOuter": 0.5}},
                "y": {"field": "v", "type": "quantitative", "title": "VO₂, (nmol O₂)/(min IU CS)"},
                "color": {"field": "sex", "type": "nominal", "title": null}
              }
            },
            {
              "mark": {"type": "tick", "size": 39, "thickness": 2.5, "color": "#000000"},
              "encoding": {
                "x": {"field": "complex", "type": "nominal", "title": null, "sort": ["Complex I", "Complex II", "Complex IV"]},
                "xOffset": {"field": "sex", "type": "nominal", "scale": {"domain": ["Male", "Female"], "paddingInner": 0.23, "paddingOuter": 0.62}},
                "y": {"field": "median", "type": "quantitative", "title": "VO₂, (nmol O₂)/(min IU CS)"}
              }
            }
          ],
          "resolve": {"scale": {"xOffset": "independent"}}
        }
      ],
      "spacing": 22,
      "resolve": {"scale": {"x": "independent", "y": "independent", "color": "independent", "fill": "independent"}}
    }
  ]
}
